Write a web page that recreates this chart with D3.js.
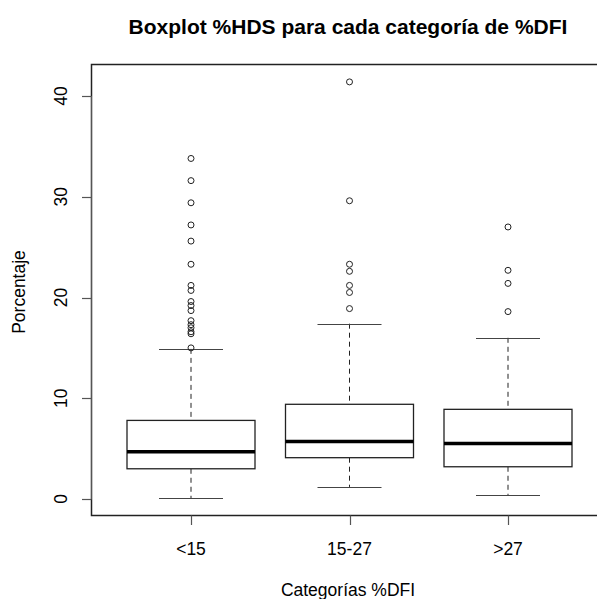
<!DOCTYPE html>
<html><head><meta charset="utf-8">
<script src="https://cdn.jsdelivr.net/npm/d3@7"></script>
<style>body{margin:0;background:#fff}svg{display:block}text{font-family:"Liberation Sans",Arial,sans-serif;fill:#000}</style>
</head><body>
<script>
const categories = ["<15", "15-27", ">27"];
const whiskerLow = [0.1, 1.2, 0.4];
const q1 = [3.0, 4.1, 3.2];
const median = [4.7, 5.7, 5.5];
const q3 = [7.8, 9.4, 8.9];
const whiskerHigh = [14.9, 17.4, 16.0];
const outliers = [
  [33.8, 31.6, 29.4, 27.2, 25.6, 23.3, 21.2, 20.7, 19.6, 19.2, 18.7, 17.7, 17.3, 17.0, 16.6, 16.4, 15.0],
  [41.4, 29.6, 23.3, 22.6, 21.2, 20.5, 18.9],
  [27.0, 22.7, 21.4, 18.6]
];
const yTicks = [0, 10, 20, 30, 40];

const W = 597, H = 599;
const svg = d3.select("body").append("svg").attr("width", W).attr("height", H);
const x = d3.scaleLinear().domain([1, 3]).range([191, 508]);
const y = d3.scaleLinear().domain([0, 40]).range([499, 96]);
const halfW = 64, capW = 32;

svg.append("text").attr("x", 348).attr("y", 34).attr("text-anchor", "middle")
  .attr("font-weight", "bold").attr("font-size", 21).text("Boxplot %HDS para cada categoría de %DFI");

const g = svg.append("g");
categories.forEach((c, i) => {
  const cx = x(i + 1);
  g.append("line").attr("x1", cx).attr("x2", cx).attr("y1", y(whiskerHigh[i])).attr("y2", y(q3[i]))
    .attr("stroke", "#222").attr("stroke-dasharray", "5,4");
  g.append("line").attr("x1", cx).attr("x2", cx).attr("y1", y(q1[i])).attr("y2", y(whiskerLow[i]))
    .attr("stroke", "#222").attr("stroke-dasharray", "5,4");
  [whiskerHigh[i], whiskerLow[i]].forEach(v => {
    g.append("line").attr("x1", cx - capW).attr("x2", cx + capW).attr("y1", Math.round(y(v)) + 0.5).attr("y2", Math.round(y(v)) + 0.5)
      .attr("stroke", "#444").attr("stroke-width", 1.2);
  });
  g.append("rect").attr("x", cx - halfW).attr("y", y(q3[i])).attr("width", halfW * 2)
    .attr("height", y(q1[i]) - y(q3[i])).attr("fill", "#fff").attr("stroke", "#222").attr("stroke-width", 1.3);
  g.append("line").attr("x1", cx - halfW).attr("x2", cx + halfW).attr("y1", y(median[i])).attr("y2", y(median[i]))
    .attr("stroke", "#000").attr("stroke-width", 3.5);
  g.selectAll(null).data(outliers[i]).enter().append("circle")
    .attr("cx", cx).attr("cy", d => y(d)).attr("r", 3)
    .attr("fill", "none").attr("stroke", "#222").attr("stroke-width", 1);
});

svg.append("rect").attr("x", 91.5).attr("y", 64.5).attr("width", 520).attr("height", 451)
  .attr("fill", "none").attr("stroke", "#222").attr("stroke-width", 1.5);

const yAxis = svg.append("g");
yAxis.append("line").attr("x1", 91.5).attr("x2", 91.5).attr("y1", y(0)).attr("y2", y(40)).attr("stroke", "#555");
yTicks.forEach(t => {
  yAxis.append("line").attr("x1", 82).attr("x2", 91.5).attr("y1", Math.round(y(t)) + 0.5).attr("y2", Math.round(y(t)) + 0.5)
    .attr("stroke", "#555").attr("stroke-width", 1.2);
  yAxis.append("text").attr("transform", `translate(67,${y(t)}) rotate(-90)`).attr("text-anchor", "middle")
    .attr("font-size", 17.5).attr("fill", "#222").text(t);
});
svg.append("text").attr("transform", `translate(25,292) rotate(-90)`).attr("text-anchor", "middle")
  .attr("font-size", 17.5).attr("fill", "#222").text("Porcentaje");

categories.forEach((c, i) => {
  const cx = Math.round(x(i + 1)) + 0.5;
  svg.append("line").attr("x1", cx).attr("x2", cx).attr("y1", 515.5).attr("y2", 525).attr("stroke", "#555").attr("stroke-width", 1.2);
  svg.append("text").attr("x", x(i + 1)).attr("y", 555).attr("text-anchor", "middle")
    .attr("font-size", 17.5).attr("fill", "#222").text(c);
});
svg.append("text").attr("x", 348).attr("y", 596).attr("text-anchor", "middle")
  .attr("font-size", 17.5).attr("fill", "#222").text("Categorías %DFI");
</script>
</body></html>
